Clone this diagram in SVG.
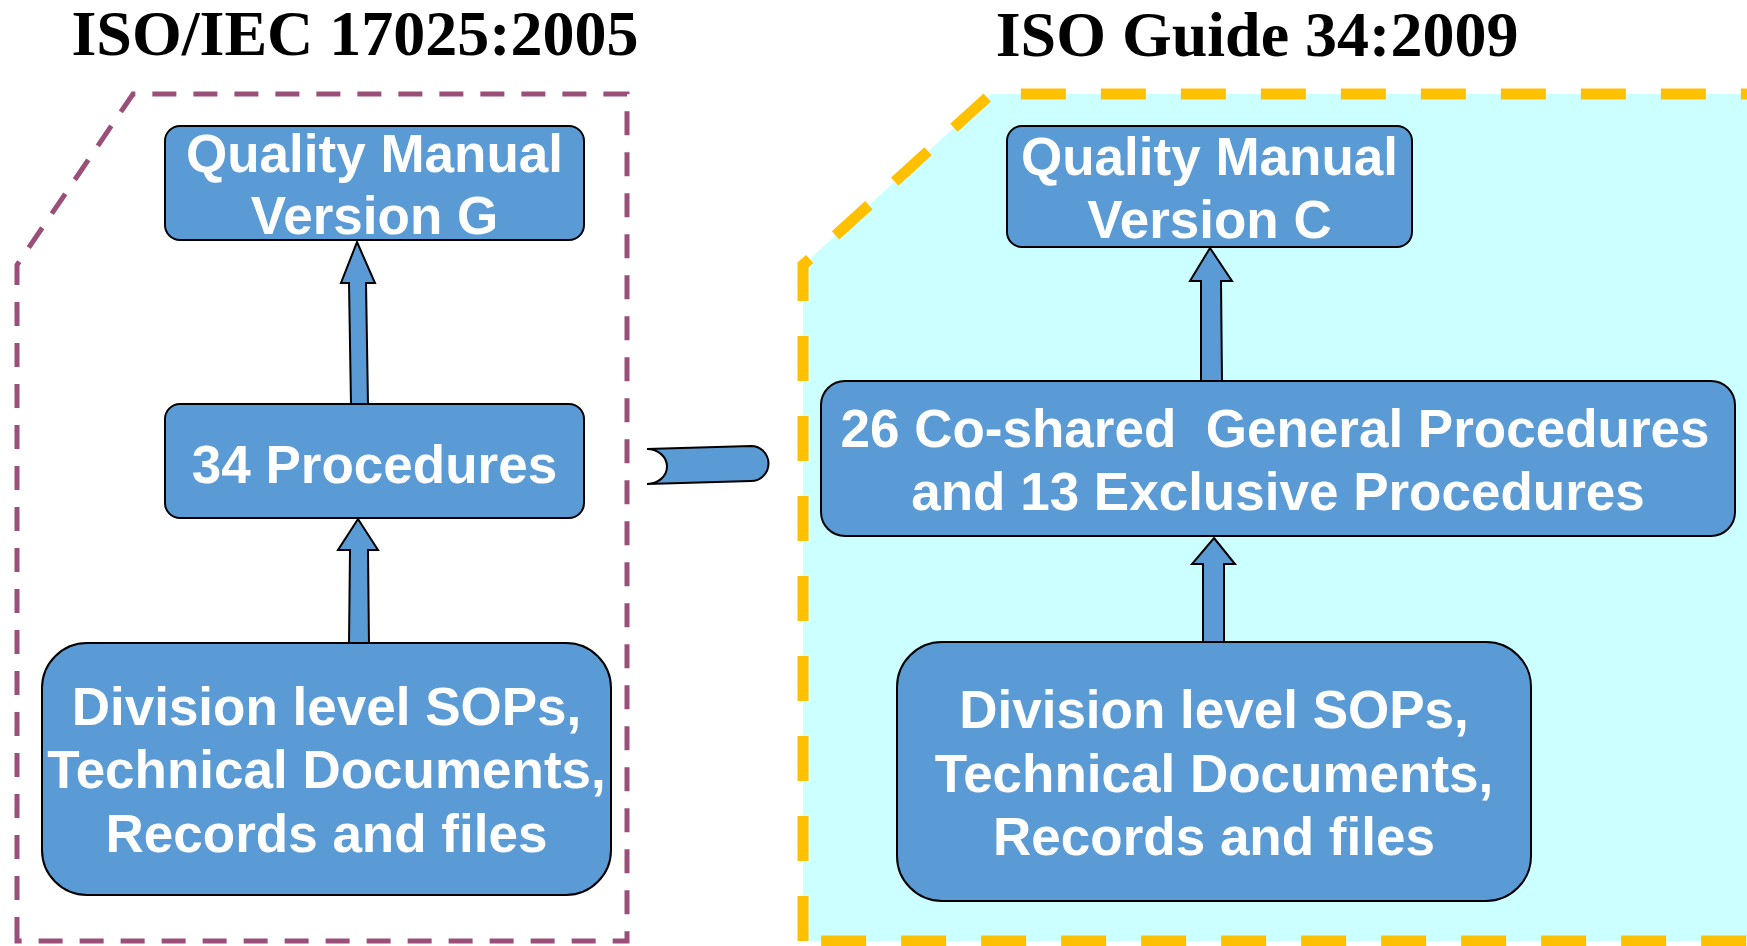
<svg xmlns="http://www.w3.org/2000/svg" width="1747" height="946" viewBox="0 0 1747 946">
<style>
.title{font-family:"Liberation Serif","Times New Roman",serif;font-weight:bold;font-size:64px;fill:#000;text-anchor:middle}
.box{fill:#5B9BD5;stroke:#000;stroke-width:2}
.lbl{font-family:"Liberation Sans",Arial,sans-serif;font-weight:bold;font-size:53px;fill:#fff;text-anchor:middle;white-space:pre}
.arr{fill:#5B9BD5;stroke:#000;stroke-width:2;stroke-linejoin:miter}
</style>
<rect width="1747" height="946" fill="#fff"/>
<g id="frame-iso17025">
<path d="M17 941 L17 265 L133 94 L627 94 L627 941 Z" fill="none" stroke="#9A4F78" stroke-width="5" stroke-dasharray="24 17"/>
<text class="title" x="355" y="55">ISO/IEC 17025:2005</text>
</g>
<g id="frame-guide34">
<path d="M803 941 L803 265 L991 94 L1760 94 L1760 941 Z" fill="#CCFFFF" stroke="#FFC000" stroke-width="11" stroke-dasharray="45 35"/>
<text class="title" x="1257" y="56">ISO Guide 34:2009</text>
</g>
<g id="connectors">
<polygon class="arr" points="357,242 375,283 366,283 368,405 351,405 349,283 341,283"/>
<polygon class="arr" points="358,519 378,550 368,550 369,645 349,645 350,550 338,550"/>
<polygon class="arr" points="1210,248 1232,281 1221,281 1222,381 1201,381 1201,281 1190,281"/>
<polygon class="arr" points="1214,538 1235,564 1224,564 1224,642 1203,642 1203,564 1192,564"/>
<path class="arr" d="M647 449 L751 446 A17.5 17.5 0 0 1 751 481 L647 484 A20 17.5 0 0 0 647 449 Z"/>
</g>
<g id="qm-g">
<rect class="box" x="165" y="126" width="419" height="114" rx="15"/>
<text class="lbl" x="374.5" y="172">Quality Manual</text>
<text class="lbl" x="374.5" y="234">Version G</text>
</g>
<g id="proc-34">
<rect class="box" x="165" y="404" width="419" height="114" rx="15"/>
<text class="lbl" x="374.5" y="483">34 Procedures</text>
</g>
<g id="div-left">
<rect class="box" x="42" y="643" width="569" height="252" rx="45"/>
<text class="lbl" x="326.5" y="725">Division level SOPs,</text>
<text class="lbl" x="326.5" y="788">Technical Documents,</text>
<text class="lbl" x="326.5" y="852">Records and files</text>
</g>
<g id="qm-c">
<rect class="box" x="1007" y="126" width="405" height="121" rx="15"/>
<text class="lbl" x="1209.5" y="175">Quality Manual</text>
<text class="lbl" x="1209.5" y="238">Version C</text>
</g>
<g id="proc-shared">
<rect class="box" x="821" y="381" width="914" height="155" rx="24"/>
<text class="lbl" x="1275" y="447" xml:space="preserve">26 Co-shared  General Procedures</text>
<text class="lbl" x="1278" y="510">and 13 Exclusive Procedures</text>
</g>
<g id="div-right">
<rect class="box" x="897" y="642" width="634" height="259" rx="45"/>
<text class="lbl" x="1214" y="728">Division level SOPs,</text>
<text class="lbl" x="1214" y="792">Technical Documents,</text>
<text class="lbl" x="1214" y="855">Records and files</text>
</g>
</svg>
